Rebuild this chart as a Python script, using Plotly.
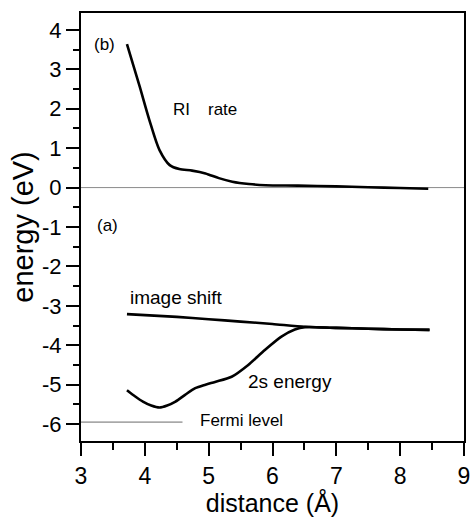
import plotly.graph_objects as go

# ---- data ----
ri_x = [3.72, 3.82, 3.92, 4.07, 4.23, 4.39, 4.54, 4.74, 4.95, 5.16, 5.37, 5.63, 5.89, 6.4, 7.0, 7.5, 8.0, 8.44]
ri_y = [3.64, 3.10, 2.56, 1.72, 0.95, 0.57, 0.47, 0.43, 0.36, 0.24, 0.15, 0.09, 0.06, 0.05, 0.03, 0.01, -0.01, -0.03]

img_x = [3.72, 4.5, 5.0, 5.5, 6.0, 6.5, 7.0, 7.5, 8.0, 8.46]
img_y = [-3.21, -3.28, -3.34, -3.40, -3.46, -3.53, -3.56, -3.58, -3.60, -3.61]

s2_x = [3.72, 3.85, 3.97, 4.10, 4.23, 4.35, 4.48, 4.63, 4.79, 4.95, 5.10, 5.36, 5.62, 5.88, 6.14, 6.35, 6.51, 7.0, 7.5, 8.0, 8.46]
s2_y = [-5.14, -5.30, -5.43, -5.53, -5.58, -5.53, -5.43, -5.26, -5.09, -5.00, -4.93, -4.80, -4.50, -4.12, -3.78, -3.60, -3.54, -3.56, -3.58, -3.60, -3.61]

fermi_x = [3.0, 4.59]
fermi_y = [-5.95, -5.95]

zero_x = [3.0, 9.0]
zero_y = [0.0, 0.0]

x_ticks = [3, 4, 5, 6, 7, 8, 9]
y_ticks = [-6, -5, -4, -3, -2, -1, 0, 1, 2, 3, 4]

labels = [
    ("(b)", 3.17, 3.62),
    ("RI", 4.41, 1.99),
    ("rate", 4.955, 1.99),
    ("(a)", 3.22, -0.95),
    ("image shift", 3.735, -2.80),
    ("2s energy", 5.58, -4.91),
    ("Fermi level", 4.835, -5.92),
]

FONT = "Liberation Sans, Arial, Helvetica, sans-serif"

fig = go.Figure()
fig.add_trace(go.Scatter(x=zero_x, y=zero_y, mode="lines",
                         line=dict(color="#8a8a8a", width=1), hoverinfo="skip"))
fig.add_trace(go.Scatter(x=fermi_x, y=fermi_y, mode="lines",
                         line=dict(color="#6a6a6a", width=1), hoverinfo="skip"))
fig.add_trace(go.Scatter(x=ri_x, y=ri_y, mode="lines",
                         line=dict(color="black", width=2.6, shape="spline", smoothing=0.8)))
fig.add_trace(go.Scatter(x=img_x, y=img_y, mode="lines",
                         line=dict(color="black", width=2.6, shape="spline", smoothing=0.6)))
fig.add_trace(go.Scatter(x=s2_x, y=s2_y, mode="lines",
                         line=dict(color="black", width=2.6, shape="spline", smoothing=0.8)))

for txt, x, y in labels:
    fig.add_annotation(x=x, y=y, text=txt, showarrow=False, xanchor="left", yanchor="middle",
                       font=dict(family=FONT, size=17 if txt not in ("image shift", "2s energy") else 19,
                                 color="black"))

fig.update_layout(
    width=472, height=517,
    margin=dict(l=81, r=8, t=13, b=76),
    paper_bgcolor="white", plot_bgcolor="white",
    showlegend=False,
    font=dict(family=FONT, color="black"),
)
fig.update_xaxes(
    range=[3, 9], tickvals=x_ticks, ticktext=[str(v) for v in x_ticks],
    showgrid=False, zeroline=False, automargin=False, ticklabeloverflow="allow",
    showline=True, linecolor="black", linewidth=2, mirror=True,
    ticks="outside", ticklen=13, tickwidth=2, tickcolor="black",
    minor=dict(ticks="outside", ticklen=7, tickwidth=2, tickcolor="black", dtick=0.5, tick0=3, showgrid=False),
    tickfont=dict(size=23, family=FONT),
    title=dict(text="distance (Å)", font=dict(size=25, family=FONT), standoff=8),
)
fig.update_yaxes(
    range=[-6.43, 4.43], tickvals=y_ticks, ticktext=[str(v) for v in y_ticks],
    showgrid=False, zeroline=False, automargin=False, ticklabeloverflow="allow",
    showline=True, linecolor="black", linewidth=2, mirror=True,
    ticks="outside", ticklen=13, tickwidth=2, tickcolor="black",
    minor=dict(ticks="outside", ticklen=6, tickwidth=2, tickcolor="black", dtick=0.5, tick0=0, showgrid=False),
    tickfont=dict(size=22, family=FONT),
    title=dict(text="energy (eV)", font=dict(size=29, family=FONT), standoff=0),
)

fig.write_html("out.html")
